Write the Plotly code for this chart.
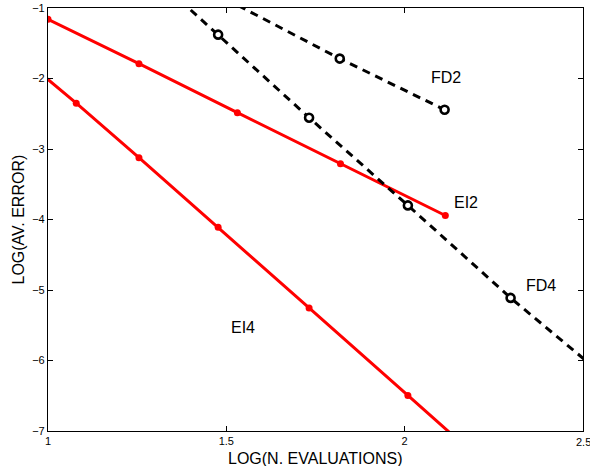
import plotly.graph_objects as go

# Data (log10 of N. evaluations vs log10 of average error)
ei2_x = [1.0, 1.255, 1.531, 1.820, 2.114]
ei2_y = [-1.16, -1.79, -2.485, -3.21, -3.943]

ei4_x = [0.954, 1.0792, 1.255, 1.477, 1.732, 2.009, 2.297]
ei4_y = [-1.82, -2.35, -3.124, -4.11, -5.254, -6.495, -7.79]

fd4_x = [1.255, 1.477, 1.732, 2.009, 2.297, 2.593]
fd4_y = [-0.36, -1.378, -2.556, -3.80, -5.112, -6.36]

fd2_x = [1.255, 1.818, 2.112]
fd2_y = [-0.23, -1.718, -2.443]

label_text = ["FD2", "EI2", "FD4", "EI4"]
label_x = [2.117, 2.173, 2.383, 1.547]
label_y = [-1.98, -3.755, -4.937, -5.53]

x_ticks = [1, 1.5, 2, 2.5]
x_ticklabels = ["1", "1.5", "2", "2.5"]
y_ticks = [-7, -6, -5, -4, -3, -2, -1]

fig = go.Figure()

red_style = dict(mode="lines+markers",
                 line=dict(color="#ff0000", width=3),
                 marker=dict(color="#ff0000", size=7, symbol="circle"),
                 showlegend=False)
black_style = dict(mode="lines+markers",
                   line=dict(color="black", width=3, dash="8px,6px"),
                   marker=dict(color="white", size=8, symbol="circle",
                               line=dict(color="black", width=2.6)),
                   showlegend=False)

fig.add_trace(go.Scatter(x=ei2_x, y=ei2_y, name="EI2", **red_style))
fig.add_trace(go.Scatter(x=ei4_x, y=ei4_y, name="EI4", **red_style))
fig.add_trace(go.Scatter(x=fd4_x, y=fd4_y, name="FD4", **black_style))
fig.add_trace(go.Scatter(x=fd2_x, y=fd2_y, name="FD2", **black_style))

font_family = "Liberation Sans, Arial, Helvetica, sans-serif"
tick_font = dict(family=font_family, size=11, color="black")

for t, lx, ly in zip(label_text, label_x, label_y):
    fig.add_annotation(x=lx, y=ly, text=t, showarrow=False,
                       font=dict(family=font_family, size=16, color="black"),
                       xanchor="center", yanchor="middle")

fig.add_annotation(x=0.5, y=0, xref="paper", yref="paper",
                   text="LOG(N. EVALUATIONS)", showarrow=False,
                   yshift=-27, xanchor="center", yanchor="middle",
                   font=dict(family=font_family, size=16, color="black"))
fig.add_annotation(x=0, y=0.5, xref="paper", yref="paper",
                   text="LOG(AV. ERROR)", showarrow=False, textangle=-90,
                   xshift=-30, xanchor="center", yanchor="middle",
                   font=dict(family=font_family, size=16, color="black"))

# last x tick label sits at the figure edge (plotly hides it as a tick label),
# so draw it as text at the axis end, like the reference where it is cut off
fig.add_annotation(x=x_ticks[-1], y=0, xref="x", yref="paper",
                   text=x_ticklabels[-1], showarrow=False,
                   yshift=-11, xanchor="center", yanchor="middle",
                   font=tick_font)

axis_common = dict(showgrid=False, zeroline=False, showline=True,
                   automargin=False,
                   linecolor="black", linewidth=1.2, mirror="ticks",
                   ticks="inside", ticklen=5, tickcolor="black",
                   tickfont=tick_font)

fig.update_xaxes(range=[1, 2.5], tickvals=x_ticks,
                 ticktext=x_ticklabels[:-1] + [""],
                 **axis_common)
fig.update_yaxes(range=[-7, -1], tickvals=y_ticks, **axis_common)

fig.update_layout(width=590, height=466, autosize=False,
                  margin=dict(l=48, r=7, t=8, b=35),
                  paper_bgcolor="white", plot_bgcolor="white",
                  font=dict(family=font_family))

fig.write_html("out.html",
               config={"displayModeBar": False},
               post_script="document.body.style.margin='0';"
                           "document.body.style.overflow='hidden';")
